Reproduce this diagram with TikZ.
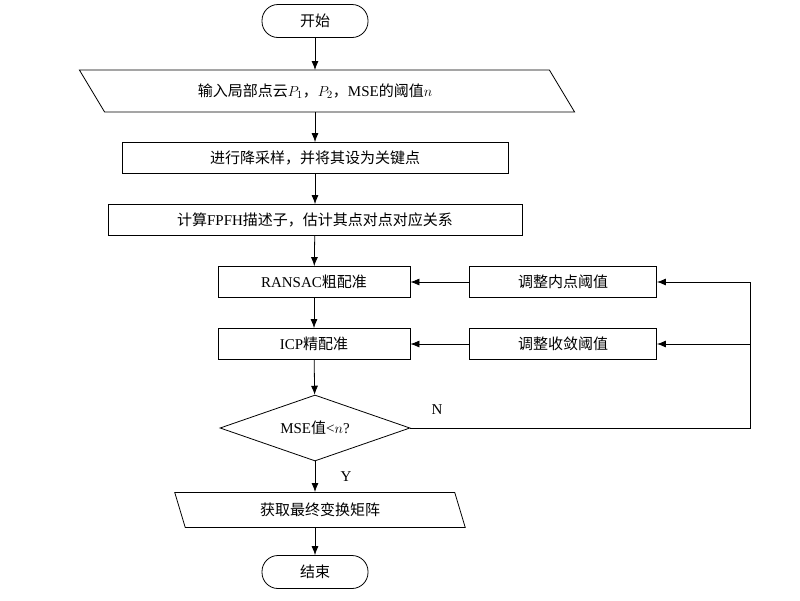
\documentclass[tikz,border=0pt]{standalone}
\usepackage{fontspec}
\setmainfont{Liberation Serif}
\newfontfamily\cjk{Noto Sans CJK SC}
\usetikzlibrary{shapes.geometric,arrows.meta}
\begin{document}
\begin{tikzpicture}[x=1pt,y=-1pt,
  box/.style={draw,thick,minimum height=31pt,font=\fontsize{15}{15}\selectfont},
  para/.style={draw,thick,trapezium,trapezium left angle=60,trapezium right angle=120,minimum height=36pt,font=\fontsize{15}{15}\selectfont,inner xsep=0pt},
  term/.style={draw,thick,rounded corners=16pt,minimum width=106pt,minimum height=33pt,font=\fontsize{15}{15}\selectfont},
  arr/.style={thick,-{Latex[length=9pt,width=7pt]}},
  lab/.style={font=\fontsize{15}{15}\selectfont}]
\useasboundingbox (0,0) rectangle (800,600);
\node[term] (s) at (315,21) {\cjk 开始};
\node[draw,thick,font=\fontsize{15}{15}\selectfont,minimum height=42pt,minimum width=470pt,xslant=-0.6,inner sep=0pt] (in) at (327,91) {};
\node[lab] at (315,91) {{\cjk 输入局部点云}$P_1${\cjk ，}$P_2${\cjk ，}MSE{\cjk 的阈值}$n$};
\node[box,minimum width=386pt] (d) at (315,158) {\cjk 进行降采样，并将其设为关键点};
\node[box,minimum width=414pt] (f) at (315,220) {{\cjk 计算}FPFH{\cjk 描述子，估计其点对点对应关系}};
\node[box,minimum width=192pt] (r) at (314,282) {RANSAC{\cjk 粗配准}};
\node[box,minimum width=187pt] (a) at (563,282) {\cjk 调整内点阈值};
\node[box,minimum width=192pt] (i) at (314,344) {ICP{\cjk 精配准}};
\node[box,minimum width=187pt] (b) at (563,344) {\cjk 调整收敛阈值};
\node[draw,thick,diamond,aspect=2.9,minimum width=190pt,minimum height=66pt,inner sep=0pt,font=\fontsize{15}{15}\selectfont] (m) at (315,428) {MSE{\cjk 值}<$n$?};
\node[draw,thick,minimum height=35pt,minimum width=280pt,xslant=-0.3,inner sep=0pt] (g) at (320,510) {};
\node[lab] at (320,510) {\cjk 获取最终变换矩阵};
\node[term] (e) at (315,572) {\cjk 结束};
\coordinate (c1) at (750,282);
\coordinate (c2) at (750,428);
\draw[arr] (s) -- (315,70);
\draw[arr] (315,112) -- (d);
\draw[arr] (d) -- (f);
\draw[arr] (f) -- (r);
\draw[arr] (r) -- (i);
\draw[arr] (i) -- (m);
\draw[arr] (m) -- (315,492) node[midway,right=22pt,lab]{Y};
\draw[arr] (315,527) -- (e);
\draw[thick] (m.east) -- (c2) -- (c1);
\draw[arr] (c1) -- (a);
\draw[arr] (750,344) -- (b);
\draw[arr] (a) -- (r);
\draw[arr] (b) -- (i);
\node[lab] at (437,410) {N};
\end{tikzpicture}
\end{document}
